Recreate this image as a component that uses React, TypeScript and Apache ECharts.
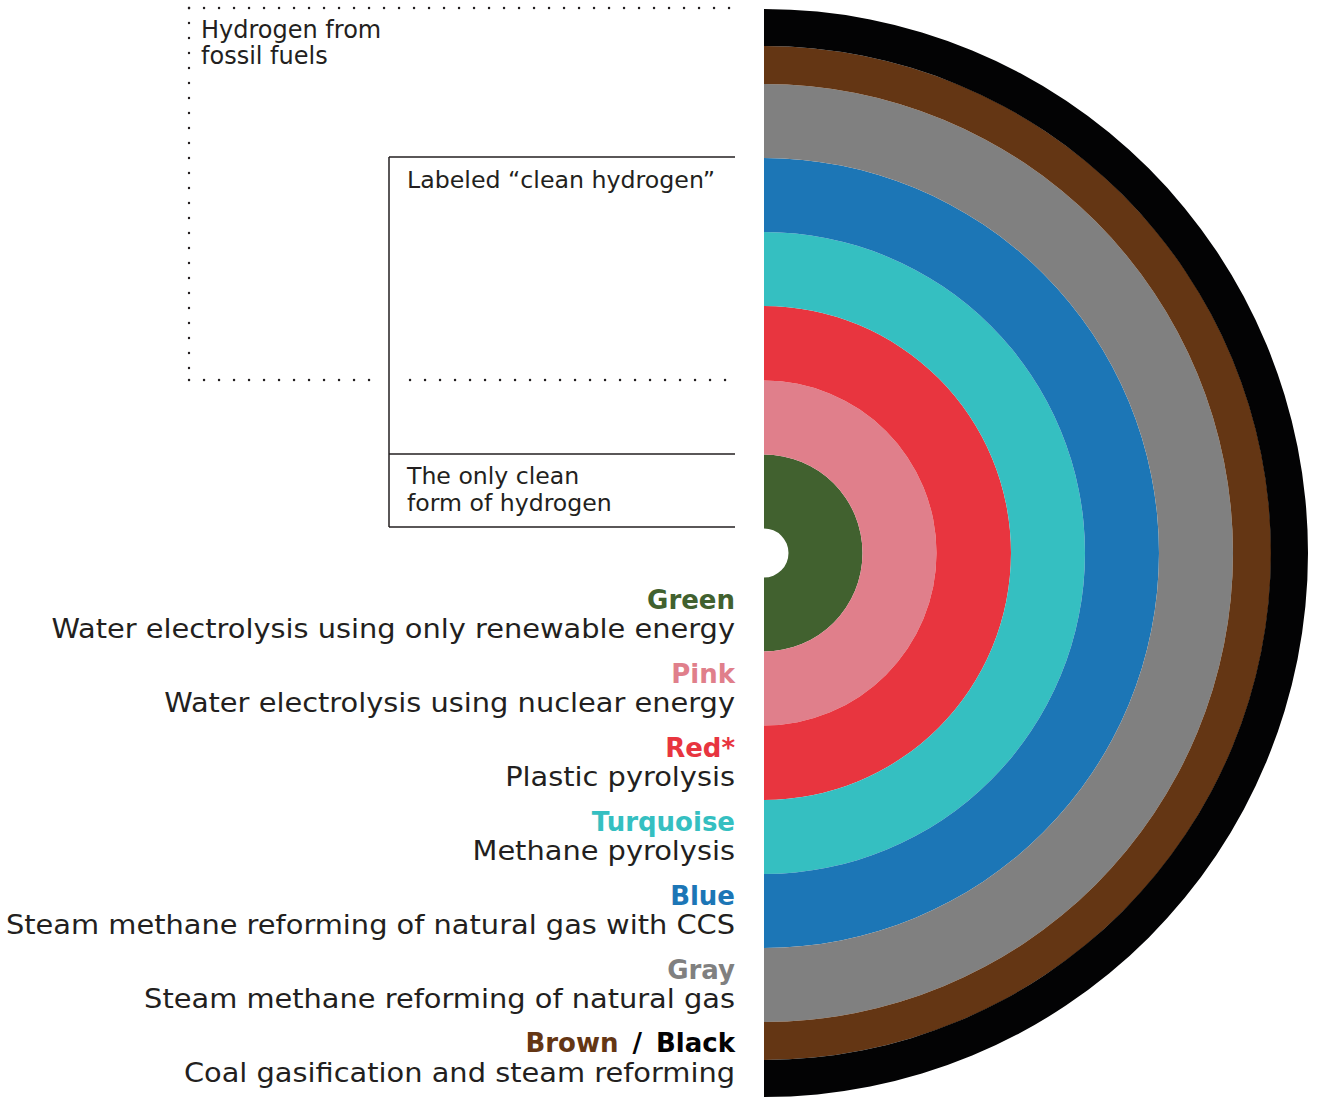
import React, { useEffect, useRef } from "react";
import * as echarts from "echarts";

// Rings, innermost first (radial thickness in px-units of the radius axis)
const ringNames = ["Green", "Pink", "Red", "Turquoise", "Blue", "Gray", "Brown", "Black"];
const ringColors = ["#41612f", "#e07f8b", "#e8353f", "#35bfc1", "#1c76b6", "#808080", "#643614", "#030304"];
const ringWidths = [74, 74, 74.5, 74, 74, 74, 38, 37];
const holeRadius = 24.5;

// Legend texts
const legendTitles = ["Green", "Pink", "Red*", "Turquoise", "Blue", "Gray", "Brown / Black"];
const legendColors = ["#41612f", "#e07f8b", "#e8353f", "#35bfc1", "#1c76b6", "#808080", "#643614"];
const legendDescriptions = [
  "Water electrolysis using only renewable energy",
  "Water electrolysis using nuclear energy",
  "Plastic pyrolysis",
  "Methane pyrolysis",
  "Steam methane reforming of natural gas with CCS",
  "Steam methane reforming of natural gas",
  "Coal gasification and steam reforming",
];

const annotationFossil = ["Hydrogen from", "fossil fuels"];
const annotationLabeled = ["Labeled \u201cclean hydrogen\u201d"];
const annotationClean = ["The only clean", "form of hydrogen"];

const FONT = "'DejaVu Sans', sans-serif";
const INK = "#231f20";

export default function App() {
  const ref = useRef<HTMLDivElement>(null);

  useEffect(() => {
    if (!ref.current) return;
    const chart = echarts.init(ref.current, null, { renderer: "svg" });
    const total = ringWidths.reduce((a, b) => a + b, 0);

    const textEl = (
      x: number,
      y: number,
      text: string,
      size: number,
      opts: any = {}
    ) => ({
      type: "text",
      x,
      y,
      scaleX: opts.scaleX ?? 1,
      silent: true,
      style: {
        text,
        fill: opts.fill ?? INK,
        fontSize: size,
        fontFamily: FONT,
        fontWeight: opts.bold ? "bold" : "normal",
        align: opts.align ?? "left",
        textAlign: opts.align ?? "left",
        verticalAlign: "middle",
        textVerticalAlign: "middle",
        rich: opts.rich,
      },
    });

    const solid = (x1: number, y1: number, x2: number, y2: number) => ({
      type: "line",
      silent: true,
      shape: { x1, y1, x2, y2 },
      style: { stroke: INK, lineWidth: 1.5 },
    });
    const dotted = (x1: number, y1: number, x2: number, y2: number) => ({
      type: "line",
      silent: true,
      shape: { x1, y1, x2, y2 },
      style: { stroke: INK, lineWidth: 2.4, lineDash: [0.1, 14.9], lineCap: "round" },
    });

    const elements: any[] = [];
    // dotted frame (fossil fuels)
    elements.push(dotted(189, 8, 730, 8));
    elements.push(dotted(189, 8, 189, 381));
    elements.push(dotted(189, 380, 376, 380));
    elements.push(dotted(410, 380, 730, 380));
    // solid frame (clean hydrogen)
    elements.push(solid(389, 157, 389, 527));
    elements.push(solid(389, 157, 735, 157));
    elements.push(solid(389, 454, 735, 454));
    elements.push(solid(389, 527, 735, 527));

    annotationFossil.forEach((t, i) => elements.push(textEl(201, 30 + i * 26, t, 24)));
    annotationLabeled.forEach((t, i) => elements.push(textEl(407, 180 + i * 26, t, 23.7)));
    annotationClean.forEach((t, i) => elements.push(textEl(407, 476 + i * 27, t, 23.6)));

    legendTitles.forEach((t, i) => {
      const y = 600 + i * 73.9;
      if (t.indexOf("/") >= 0) {
        const [a, b] = t.split(" / ");
        elements.push(
          textEl(735, y, `{a|${a}} {s|/} {b|${b}}`, 26, {
            align: "right",
            bold: true,
            rich: {
              a: { fill: legendColors[i], color: legendColors[i], fontWeight: "bold", fontSize: 26, fontFamily: FONT },
              s: { fill: "#030304", color: "#030304", fontWeight: "bold", fontSize: 26, fontFamily: FONT, padding: [0, 5] },
              b: { fill: "#030304", color: "#030304", fontWeight: "bold", fontSize: 26, fontFamily: FONT },
            },
          })
        );
      } else {
        elements.push(textEl(735, y, t, 26, { align: "right", bold: true, fill: legendColors[i] }));
      }
      elements.push(
        textEl(735, y + 29.5, legendDescriptions[i], 26, { align: "right", scaleX: 1.11 })
      );
    });

    chart.setOption({
      animation: false,
      backgroundColor: "#ffffff",
      polar: { center: [764, 553], radius: [holeRadius, holeRadius + total] },
      angleAxis: {
        type: "category",
        data: ["east", "west"],
        startAngle: 90,
        clockwise: true,
        boundaryGap: true,
        show: false,
      },
      radiusAxis: { type: "value", min: 0, max: total, show: false },
      series: ringNames.map((n, i) => ({
        type: "bar",
        name: n,
        coordinateSystem: "polar",
        stack: "rings",
        data: [ringWidths[i], "-"],
        barWidth: "100%",
        barCategoryGap: "0%",
        silent: true,
        itemStyle: { color: ringColors[i] },
      })),
      graphic: { elements },
    });

    return () => chart.dispose();
  }, []);

  return (
    <div
      ref={ref}
      style={{ position: "absolute", left: 0, top: 0, width: 1317, height: 1100 }}
    />
  );
}
